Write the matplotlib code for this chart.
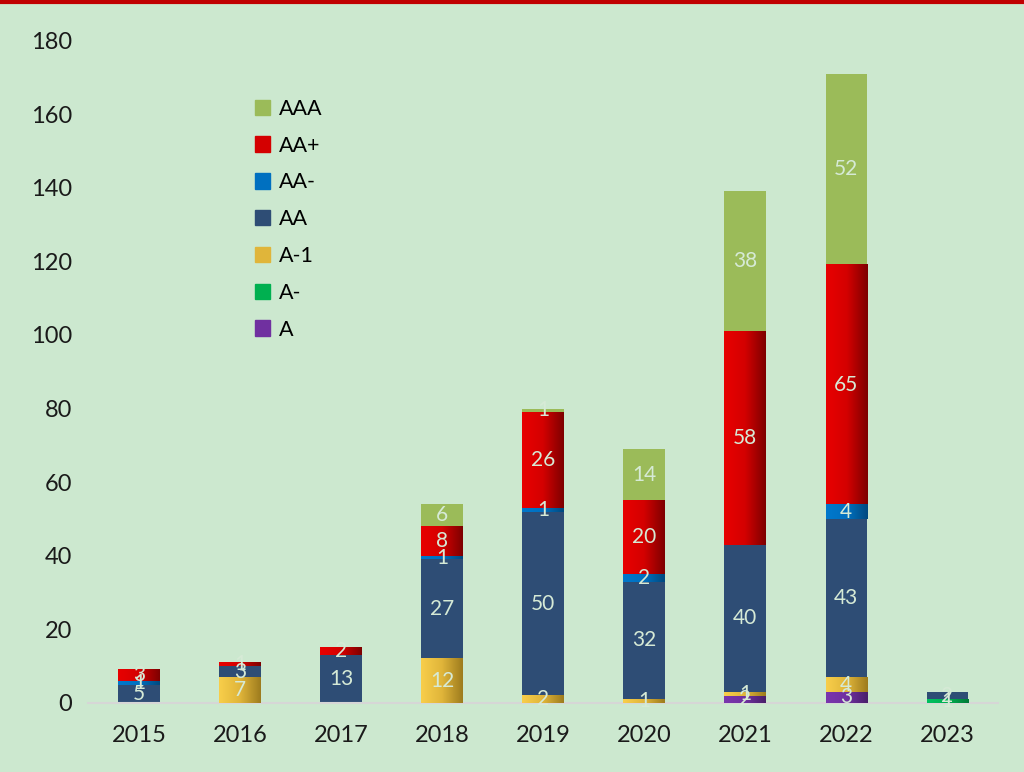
import matplotlib.pyplot as plt
import numpy as np
from matplotlib.colors import LinearSegmentedColormap
from matplotlib.patches import Rectangle
from matplotlib.lines import Line2D

# Data (bottom to top stacking order)
years = ["2015", "2016", "2017", "2018", "2019", "2020", "2021", "2022", "2023"]
rating_a = [0, 0, 0, 0, 0, 0, 2, 3, 0]
rating_a_minus = [0, 0, 0, 0, 0, 0, 0, 0, 1]
rating_a_1 = [0, 7, 0, 12, 2, 1, 1, 4, 0]
rating_aa = [5, 3, 13, 27, 50, 32, 40, 43, 2]
rating_aa_minus = [1, 0, 0, 1, 1, 2, 0, 4, 0]
rating_aa_plus = [3, 1, 2, 8, 26, 20, 58, 65, 0]
rating_aaa = [0, 0, 0, 6, 1, 14, 38, 52, 0]

# name, values, colour stops (left -> right); one stop means solid
series = [
    ("A", rating_a, ["#7A35AE", "#7030A0", "#4A1F6B"]),
    ("A-", rating_a_minus, ["#00C060", "#00B050", "#007A38"]),
    ("A-1", rating_a_1, ["#F8CE4A", "#E0B53A", "#9E7C1E"]),
    ("AA", rating_aa, ["#2E4D75"]),
    ("AA-", rating_aa_minus, ["#0078CC", "#0070C0", "#004A80"]),
    ("AA+", rating_aa_plus, ["#E80000", "#D40000", "#7E0000"]),
    ("AAA", rating_aaa, ["#9BBB59"]),
]

bg = "#CCE8CF"
label_color = "#D6EAD6"
font = ["Lato", "DejaVu Sans"]

fig = plt.figure(figsize=(10.24, 7.72), dpi=100)
fig.patch.set_facecolor(bg)
ax = fig.add_axes([0.0864, 0.0894, 0.888, 0.858])
ax.set_facecolor(bg)

x = np.arange(len(years))
width = 0.41
bottom = np.zeros(len(years))
grad = np.linspace(0, 1, 64).reshape(1, -1)

for name, vals, stops in series:
    vals = np.array(vals, dtype=float)
    ax.bar(x, vals, width, bottom=bottom, color=stops[len(stops) // 2],
           edgecolor="none", zorder=2)
    if len(stops) > 1:
        cmap = LinearSegmentedColormap.from_list(name, stops)
        for xi, v, b in zip(x, vals, bottom):
            if v > 0:
                ax.imshow(grad, cmap=cmap, aspect="auto", zorder=3,
                          extent=[xi - width / 2, xi + width / 2, b, b + v])
    for xi, v, b in zip(x, vals, bottom):
        if v > 0:
            ax.text(xi, b + v / 2, f"{int(v)}", ha="center", va="center",
                    color=label_color, fontsize=15, family=font, zorder=5)
    bottom += vals

ax.set_xlim(-0.5, len(years) - 0.5)
ax.set_ylim(0, 180)
ax.set_yticks(range(0, 181, 20))
ax.set_xticks(x)
ax.set_xticklabels(years)
for lab in ax.get_xticklabels() + ax.get_yticklabels():
    lab.set_family(font)
    lab.set_fontsize(17)
    lab.set_color("#1A1A1A")
ax.tick_params(length=0)
ax.tick_params(axis="y", pad=12)
ax.tick_params(axis="x", pad=16)

for side in ["top", "right", "left"]:
    ax.spines[side].set_visible(False)
ax.spines["bottom"].set_color("#D6D6D6")
ax.spines["bottom"].set_linewidth(1.5)

# Legend (top item first)
handles = [Rectangle((0, 0), 1, 1, color=s[2][0] if len(s[2]) == 1 else s[2][1])
           for s in series[::-1]]
labels = [s[0] for s in series[::-1]]
ax.legend(handles, labels, loc="upper left", bbox_to_anchor=(0.183, 0.912),
          frameon=False, prop={"family": font, "size": 15.5},
          handlelength=0.72, handleheight=0.72, handletextpad=0.4,
          labelspacing=0.78, borderpad=0, borderaxespad=0)

# Red line across the top
fig.add_artist(Line2D([0, 1], [0.998, 0.998], transform=fig.transFigure,
                      color="#C00000", linewidth=3))

fig.savefig("out.png", dpi=100, facecolor=bg)
